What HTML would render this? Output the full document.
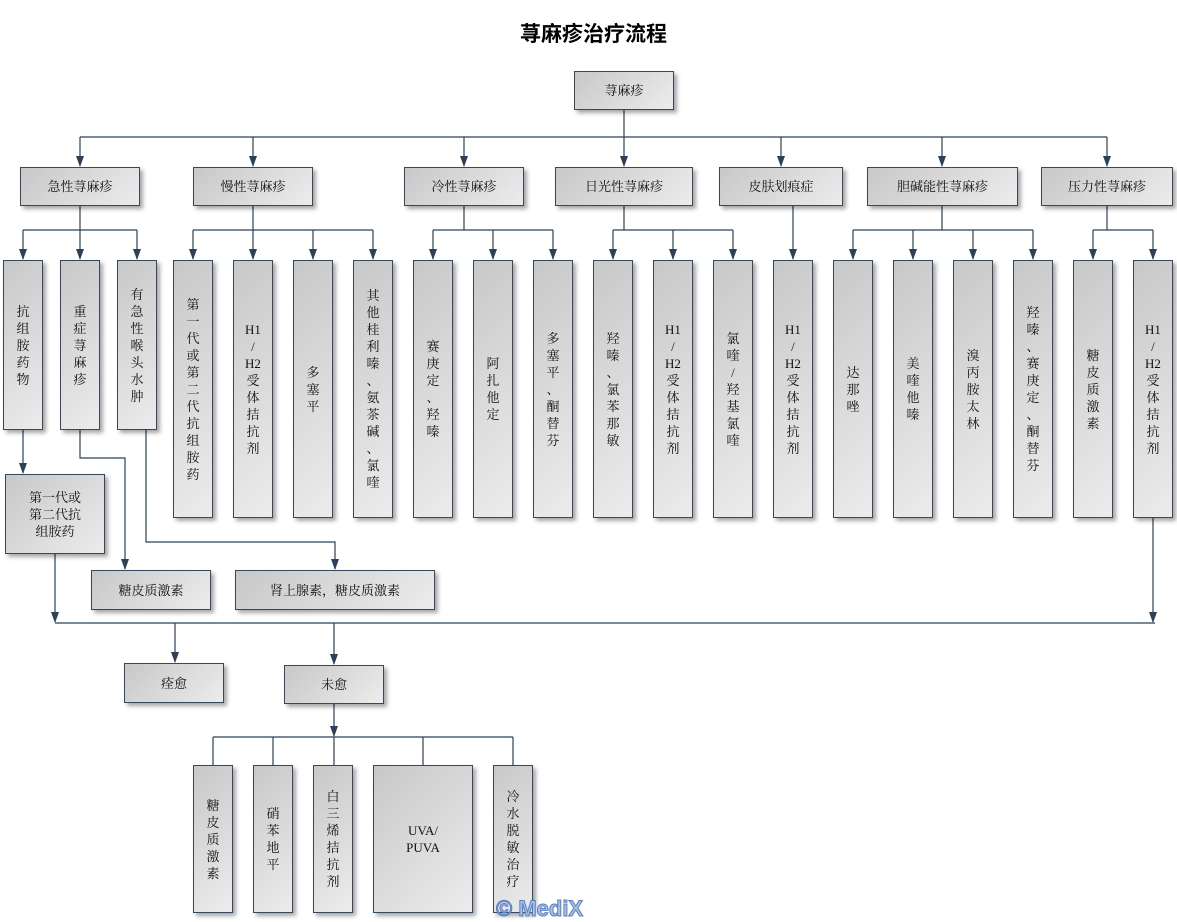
<!DOCTYPE html>
<html><head><meta charset="utf-8"><style>
body{margin:0;width:1177px;height:919px;background:#fff;position:relative;overflow:hidden;font-family:"Liberation Serif","Noto Serif CJK SC","Noto Sans CJK SC",serif;}
.b{position:absolute;box-sizing:border-box;border:1px solid #34495e;background:linear-gradient(135deg,#c8c8c8,#ececec);box-shadow:3px 3px 4px rgba(0,0,0,0.35);display:flex;align-items:center;justify-content:center;text-align:center;font-size:13px;line-height:17px;color:#111;}
svg{position:absolute;left:0;top:0}
h1{position:absolute;top:18px;left:0;width:1187px;text-align:center;margin:0;font-size:21px;font-weight:bold;font-family:"Noto Sans CJK SC",sans-serif;}
.wm{position:absolute;left:496px;top:896px;font:bold 22px "Liberation Sans",sans-serif;color:#a8c0e8;-webkit-text-stroke:1px #5a7fc0;}
</style></head><body>
<h1>荨麻疹治疗流程</h1>
<svg width="1177" height="919">
<g stroke="#2c4158" stroke-width="1.2" fill="none">
<path d="M624,110V137M80,137H1107"/>
<path d="M80,137V166M253,137V166M464,137V166M624,137V166M781,137V166M942,137V166M1107,137V166"/>
<path d="M80,206V230M23,230H137M253,206V230M193,230H373M464,206V230M433,230H553M624,206V230M613,230H733M942,206V230M853,230H1033M1107,206V230M1093,230H1153"/>
<path d="M23,230V259M80,230V259M137,230V259M193,230V259M253,230V259M313,230V259M373,230V259M433,230V259M493,230V259M553,230V259M613,230V259M673,230V259M733,230V259M793,206V259M853,230V259M913,230V259M973,230V259M1033,230V259M1093,230V259M1153,230V259"/>
<path d="M23,430V473"/>
<path d="M80,430V458H125V569"/>
<path d="M146,430V542H335V569"/>
<path d="M55,554V622"/>
<path d="M1153,518V622"/>
<path d="M55,623H1155"/>
<path d="M175,623V662M334,623V664"/>
<path d="M334,704V736"/>
<path d="M213,737H513M213,737V765M273,737V765M334,737V765M423,737V765M513,737V765"/>
</g>
<g fill="#2c4158">
<path d="M76,156h8l-4,11zM249,156h8l-4,11zM460,156h8l-4,11zM620,156h8l-4,11zM777,156h8l-4,11zM938,156h8l-4,11zM1103,156h8l-4,11z"/>
<path d="M19,249h8l-4,11zM76,249h8l-4,11zM133,249h8l-4,11zM189,249h8l-4,11zM249,249h8l-4,11zM309,249h8l-4,11zM369,249h8l-4,11zM429,249h8l-4,11zM489,249h8l-4,11zM549,249h8l-4,11zM609,249h8l-4,11zM669,249h8l-4,11zM729,249h8l-4,11zM789,249h8l-4,11zM849,249h8l-4,11zM909,249h8l-4,11zM969,249h8l-4,11zM1029,249h8l-4,11zM1089,249h8l-4,11zM1149,249h8l-4,11z"/>
<path d="M19,463h8l-4,11zM121,559h8l-4,11zM331,559h8l-4,11zM51,612h8l-4,11zM1149,612h8l-4,11zM171,652h8l-4,11zM330,654h8l-4,11zM330,726h8l-4,11z"/>
</g></svg>
<div class="b" style="left:574px;top:71px;width:100px;height:39px">荨麻疹</div>
<div class="b" style="left:20px;top:167px;width:120px;height:39px">急性荨麻疹</div>
<div class="b" style="left:193px;top:167px;width:120px;height:39px">慢性荨麻疹</div>
<div class="b" style="left:404px;top:167px;width:120px;height:39px">冷性荨麻疹</div>
<div class="b" style="left:555px;top:167px;width:138px;height:39px">日光性荨麻疹</div>
<div class="b" style="left:719px;top:167px;width:124px;height:39px">皮肤划痕症</div>
<div class="b" style="left:867px;top:167px;width:151px;height:39px">胆碱能性荨麻疹</div>
<div class="b" style="left:1041px;top:167px;width:132px;height:39px">压力性荨麻疹</div>

<div class="b" style="left:3px;top:260px;width:40px;height:170px">抗<br>组<br>胺<br>药<br>物</div>
<div class="b" style="left:60px;top:260px;width:40px;height:170px">重<br>症<br>荨<br>麻<br>疹</div>
<div class="b" style="left:117px;top:260px;width:40px;height:170px">有<br>急<br>性<br>喉<br>头<br>水<br>肿</div>

<div class="b" style="left:173px;top:260px;width:40px;height:258px">第<br>一<br>代<br>或<br>第<br>二<br>代<br>抗<br>组<br>胺<br>药</div>
<div class="b" style="left:233px;top:260px;width:40px;height:258px">H1<br>/<br>H2<br>受<br>体<br>拮<br>抗<br>剂</div>
<div class="b" style="left:293px;top:260px;width:40px;height:258px">多<br>塞<br>平</div>
<div class="b" style="left:353px;top:260px;width:40px;height:258px">其<br>他<br>桂<br>利<br>嗪<br>、<br>氨<br>茶<br>碱<br>、<br>氯<br>喹</div>
<div class="b" style="left:413px;top:260px;width:40px;height:258px">赛<br>庚<br>定<br>、<br>羟<br>嗪</div>
<div class="b" style="left:473px;top:260px;width:40px;height:258px">阿<br>扎<br>他<br>定</div>
<div class="b" style="left:533px;top:260px;width:40px;height:258px">多<br>塞<br>平<br>、<br>酮<br>替<br>芬</div>
<div class="b" style="left:593px;top:260px;width:40px;height:258px">羟<br>嗪<br>、<br>氯<br>苯<br>那<br>敏</div>
<div class="b" style="left:653px;top:260px;width:40px;height:258px">H1<br>/<br>H2<br>受<br>体<br>拮<br>抗<br>剂</div>
<div class="b" style="left:713px;top:260px;width:40px;height:258px">氯<br>喹<br>/<br>羟<br>基<br>氯<br>喹</div>
<div class="b" style="left:773px;top:260px;width:40px;height:258px">H1<br>/<br>H2<br>受<br>体<br>拮<br>抗<br>剂</div>
<div class="b" style="left:833px;top:260px;width:40px;height:258px">达<br>那<br>唑</div>
<div class="b" style="left:893px;top:260px;width:40px;height:258px">美<br>喹<br>他<br>嗪</div>
<div class="b" style="left:953px;top:260px;width:40px;height:258px">溴<br>丙<br>胺<br>太<br>林</div>
<div class="b" style="left:1013px;top:260px;width:40px;height:258px">羟<br>嗪<br>、<br>赛<br>庚<br>定<br>、<br>酮<br>替<br>芬</div>
<div class="b" style="left:1073px;top:260px;width:40px;height:258px">糖<br>皮<br>质<br>激<br>素</div>
<div class="b" style="left:1133px;top:260px;width:40px;height:258px">H1<br>/<br>H2<br>受<br>体<br>拮<br>抗<br>剂</div>

<div class="b" style="left:5px;top:474px;width:100px;height:80px">第一代或<br>第二代抗<br>组胺药</div>
<div class="b" style="left:91px;top:570px;width:120px;height:40px">糖皮质激素</div>
<div class="b" style="left:235px;top:570px;width:200px;height:40px">肾上腺素，糖皮质激素</div>

<div class="b" style="left:124px;top:663px;width:100px;height:40px">痊愈</div>
<div class="b" style="left:284px;top:665px;width:100px;height:39px">未愈</div>

<div class="b" style="left:193px;top:765px;width:40px;height:148px">糖<br>皮<br>质<br>激<br>素</div>
<div class="b" style="left:253px;top:765px;width:40px;height:148px">硝<br>苯<br>地<br>平</div>
<div class="b" style="left:313px;top:765px;width:40px;height:148px">白<br>三<br>烯<br>拮<br>抗<br>剂</div>
<div class="b" style="left:373px;top:765px;width:100px;height:148px">UVA/<br>PUVA</div>
<div class="b" style="left:493px;top:765px;width:40px;height:148px">冷<br>水<br>脱<br>敏<br>治<br>疗</div>
<div class="wm">© MediX</div>
</body></html>
